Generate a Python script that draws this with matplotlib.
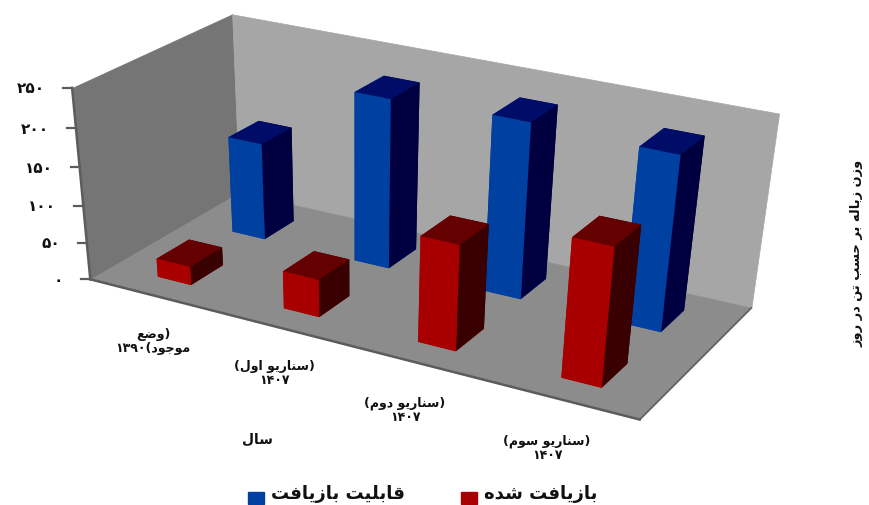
import matplotlib
matplotlib.use('Agg')
import matplotlib.pyplot as plt
from matplotlib.legend_handler import HandlerPatch
from matplotlib.lines import Line2D
from matplotlib.patches import Patch, Rectangle
from matplotlib.transforms import IdentityTransform
from mpl_toolkits.mplot3d import proj3d
from mpl_toolkits.mplot3d.art3d import Poly3DCollection
import numpy as np

scenarios = ['(وضع\nموجود)۱۳۹۰', '(سناریو اول)\n۱۴۰۷', '(سناریو دوم)\n۱۴۰۷', '(سناریو سوم)\n۱۴۰۷']
recycled = [25, 50, 137, 176]
capacity = [132, 225, 230, 226]
yticks = [0, 50, 100, 150, 200, 250]
ytick_labels = ['۰', '۵۰', '۱۰۰', '۱۵۰', '۲۰۰', '۲۵۰']
series_names = ['قابلیت بازیافت', 'بازیافت شده']
axis_y_name = 'وزن زباله بر حسب تن در روز'
axis_x_name = 'سال'

W, H = 870, 506
XMAX, YMAX, ZMAX = 4.0, 2.0, 250.0

# ---- Persian text: matplotlib has no shaping, so build the visual form
FORMS = {'ا': (0xFE8D, 0xFE8E), 'ب': (0xFE8F, 0xFE90, 0xFE91, 0xFE92), 'ت': (0xFE95, 0xFE96, 0xFE97, 0xFE98),
         'ج': (0xFE9D, 0xFE9E, 0xFE9F, 0xFEA0), 'ح': (0xFEA1, 0xFEA2, 0xFEA3, 0xFEA4), 'د': (0xFEA9, 0xFEAA),
         'ر': (0xFEAD, 0xFEAE), 'ز': (0xFEAF, 0xFEB0), 'س': (0xFEB1, 0xFEB2, 0xFEB3, 0xFEB4),
         'ش': (0xFEB5, 0xFEB6, 0xFEB7, 0xFEB8), 'ض': (0xFEBD, 0xFEBE, 0xFEBF, 0xFEC0), 'ع': (0xFEC9, 0xFECA, 0xFECB, 0xFECC),
         'ف': (0xFED1, 0xFED2, 0xFED3, 0xFED4), 'ق': (0xFED5, 0xFED6, 0xFED7, 0xFED8), 'ل': (0xFEDD, 0xFEDE, 0xFEDF, 0xFEE0),
         'م': (0xFEE1, 0xFEE2, 0xFEE3, 0xFEE4), 'ن': (0xFEE5, 0xFEE6, 0xFEE7, 0xFEE8), 'ه': (0xFEE9, 0xFEEA, 0xFEEB, 0xFEEC),
         'و': (0xFEED, 0xFEEE), 'ی': (0xFBFC, 0xFBFD, 0xFBFE, 0xFBFF)}
DIGITS = '۰۱۲۳۴۵۶۷۸۹'
MIRROR = {'(': ')', ')': '('}


def shape_line(s):
    out = []
    for i, c in enumerate(s):
        if c in FORMS:
            prev = s[i - 1] if i else ''
            nxt = s[i + 1] if i + 1 < len(s) else ''
            jp = prev in FORMS and len(FORMS[prev]) == 4
            jn = nxt in FORMS and len(FORMS[c]) == 4
            idx = (1 if jp else 0) + (2 if jn else 0)
            out.append(chr(FORMS[c][idx]))
        else:
            out.append(MIRROR.get(c, c))
    runs, cur = [], ''
    for c in out:
        if cur and (c in DIGITS) != (cur[-1] in DIGITS):
            runs.append(cur)
            cur = ''
        cur += c
    runs.append(cur)
    return ''.join(r if r[0] in DIGITS else r[::-1] for r in runs[::-1])


def fa(s):
    return '\n'.join(shape_line(l) for l in s.split('\n'))


plt.rcParams['font.family'] = ['DejaVu Sans']
plt.rcParams['font.weight'] = 'bold'
fig = plt.figure(figsize=(W / 100, H / 100), dpi=100)
ax = fig.add_axes([0, (H - W) / 2 / H, 1, W / H], projection='3d', computed_zorder=False)
ax.set_axis_off()
ax.apply_aspect()

# ---- camera fitted to the box corners seen in the picture (unit box -> pixels)
cam_pts = [((0, 0, 0), (92, 277)), ((0, 0, 1), (70, 91)), ((0, 1, 0), (237, 197)), ((0, 1, 1), (235, 13)),
           ((1, 1, 0), (752, 307)), ((1, 1, 1), (778, 115)), ((1, 0, 0), (640, 422))]
inv = ax.transData.inverted()
A = []
for (u, v, t), (px, py) in cam_pts:
    qx, qy = inv.transform((px, H - py))
    qx, qy = qx * 10, qy * 10
    A.append([u, v, t, 1, 0, 0, 0, 0, -qx * u, -qx * v, -qx * t, -qx])
    A.append([0, 0, 0, 0, u, v, t, 1, -qy * u, -qy * v, -qy * t, -qy])
P = np.linalg.svd(np.array(A, float))[2][-1].reshape(3, 4)
if P[2, 3] < 0:
    P = -P
P[:2] /= 10
P = P @ np.diag([1 / XMAX, 1 / YMAX, 1 / ZMAX, 1])
k = P[2, 3]
M = np.vstack([P[0], P[1], P[2] - k * np.array([0, 0, 0, 1]), P[2]])
ax.get_proj = lambda: M
ax.M = M
ax.set_xlim(0, XMAX)
ax.set_ylim(0, YMAX)
ax.set_zlim(0, ZMAX)


def to_px(x, y, z):
    qx, qy, _ = proj3d.proj_transform(x, y, z, M)
    return ax.transData.transform((qx, qy))


# ---- walls and floor
floor = [[(0, 0, 0), (XMAX, 0, 0), (XMAX, YMAX, 0), (0, YMAX, 0)]]
left = [[(0, 0, 0), (0, YMAX, 0), (0, YMAX, ZMAX), (0, 0, ZMAX)]]
back = [[(0, YMAX, 0), (XMAX, YMAX, 0), (XMAX, YMAX, ZMAX), (0, YMAX, ZMAX)]]
for verts, col, zo in ((left, '#757575', 1), (back, '#a6a6a6', 1), (floor, '#8c8c8c', 2)):
    ax.add_collection3d(Poly3DCollection(verts, facecolors=col, edgecolors=col, linewidths=0.5, zorder=zo))
edge = '#5c5c5c'
ax.plot([0, XMAX], [0, 0], [0, 0], color=edge, lw=1.8, zorder=3)
ax.plot([0, 0], [0, YMAX], [0, 0], color=edge, lw=1.2, zorder=3)
ax.plot([0, 0], [0, 0], [0, ZMAX], color=edge, lw=1.8, zorder=3)
ax.plot([XMAX, XMAX], [0, YMAX], [0, 0], color=edge, lw=1.0, zorder=3)

# ---- bars  (faces: bottom, top, front, back, left, right)
xc = np.arange(4) + 0.5
bw, bd = 0.27, 0.42
blue_faces = ['#0040a0', '#000d68', '#0040a0', '#000040', '#0040a0', '#000040']
red_faces = ['#a80000', '#640000', '#a80000', '#380000', '#a80000', '#380000']
ax.bar3d(xc - bw / 2, np.full(4, 1.5 - bd / 2), 0, bw, bd, capacity, color=blue_faces * 4, shade=False, zorder=4)
ax.bar3d(xc - bw / 2, np.full(4, 0.5 - bd / 2), 0, bw, bd, recycled, color=red_faces * 4, shade=False, zorder=5)

# ---- value axis ticks and labels
for v, lab in zip(yticks, ytick_labels):
    tx, ty = to_px(0, 0, v)
    fig.add_artist(Line2D([tx - 9, tx], [ty, ty], color=edge, lw=1.6, transform=IdentityTransform()))
    fig.text((tx - 27) / W, ty / H, fa(lab), ha='right', va='center', fontsize=11, color='#111111')

# ---- category labels and titles
cat_pos = [(153, 342), (274, 374), (405, 410), (547, 448)]
for s, (cx, cy) in zip(scenarios, cat_pos):
    fig.text(cx / W, 1 - cy / H, fa(s), ha='center', va='center', fontsize=9, linespacing=1.1, color='#111111')
fig.text(257 / W, 1 - 440 / H, fa(axis_x_name), ha='center', va='center', fontsize=10, color='#111111')
fig.text(857 / W, 1 - 253 / H, fa(axis_y_name), rotation=90, ha='center', va='center', fontsize=9.4, color='#111111')


def low_square(legend, orig_handle, xdescent, ydescent, width, height, fontsize):
    return Rectangle((-xdescent, -ydescent - 4.7), width, height)


handles = [Patch(color='#0040a0'), Patch(color='#a80000')]
fig.legend(handles, [fa(n) for n in series_names], ncol=2, frameon=False, loc='center',
           bbox_to_anchor=(423 / W, 1 - 494 / H), fontsize=13, handlelength=0.88, handleheight=0.67,
           handletextpad=0.4, columnspacing=3.1, borderpad=0, labelcolor='#111111',
           handler_map={Patch: HandlerPatch(patch_func=low_square)})

fig.savefig('out.png', dpi=100)
